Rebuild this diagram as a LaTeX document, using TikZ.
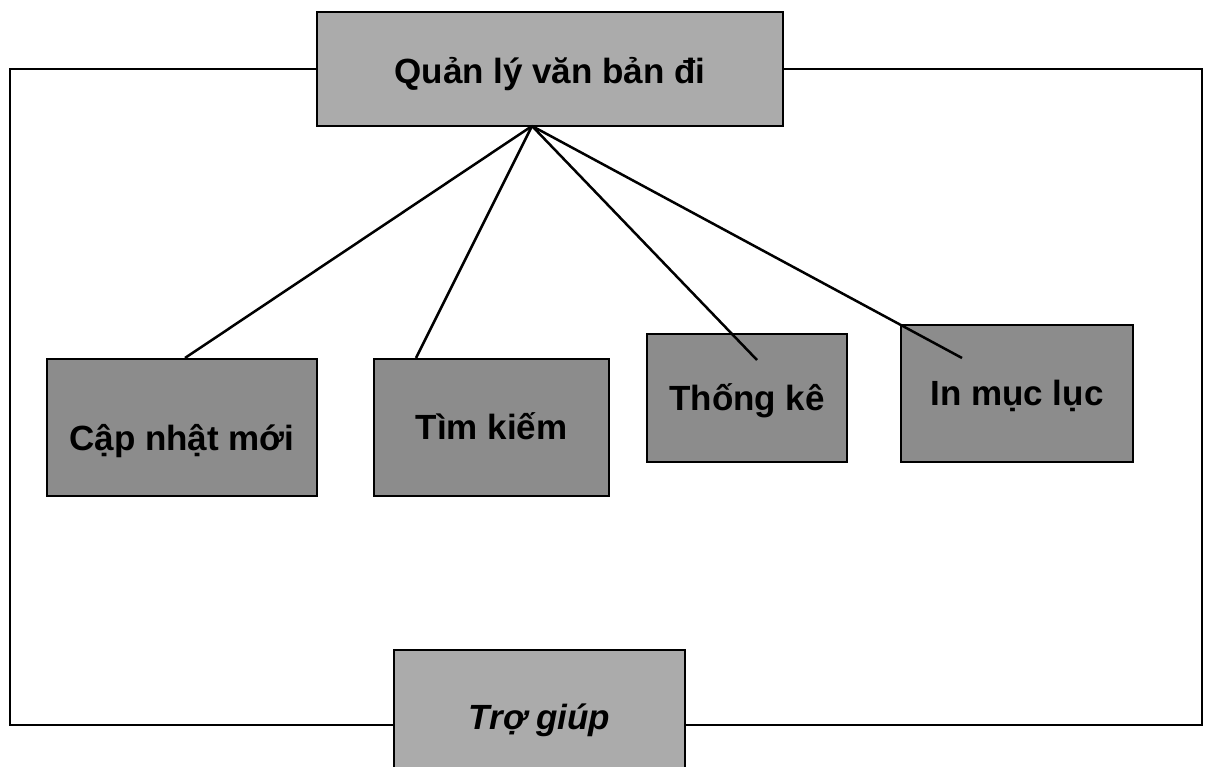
\documentclass[tikz,border=0pt]{standalone}
\usepackage{fontspec}
\setmainfont{Liberation Sans}

\tikzset{
  menu/.style={draw,line width=2.5pt,inner sep=0pt,text height=31pt,text depth=7pt,
    font=\fontsize{35}{40}\selectfont\bfseries},
  mainmenu/.style={menu,fill=black!33},
  submenu/.style={menu,fill=black!45},
}

\begin{document}
\begin{tikzpicture}[x=1pt,y=-1pt,line width=2.5pt]
  \useasboundingbox (0,0) rectangle (1215,767);
  \clip (0,0) rectangle (1215,767);

  % menu boxes
  \node [mainmenu,minimum width=466,minimum height=114,text height=37pt] (qlvb) at (550,69) {Quản lý văn bản đi};
  \node [submenu,minimum width=270,minimum height=137,text height=53pt] (capnhat) at (182,427.5) {Cập nhật mới};
  \node [submenu,minimum width=235,minimum height=137] (timkiem) at (491.5,427.5) {Tìm kiếm};
  \node [submenu,minimum width=200,minimum height=128] (thongke) at (747,398) {Thống kê};
  \node [submenu,minimum width=232,minimum height=137] (inmucluc) at (1017,393.5) {In mục lục};
  \node [mainmenu,minimum width=291,minimum height=150,text depth=23pt,
    font=\fontsize{35}{40}\selectfont\bfseries\itshape] (trogiup) at (539.5,725) {Trợ giúp};

  % where the branches meet the boxes
  \coordinate (hub) at (532,126);
  \coordinate (a1) at (185,358);
  \coordinate (a2) at (416,358);
  \coordinate (a3) at (757,360);
  \coordinate (a4) at (962,358);

  \draw (hub) -- (a1);
  \draw (hub) -- (a2);
  \draw (hub) -- (a3);
  \draw (hub) -- (a4);

  % outer frame
  \coordinate (bl) at (10,725);
  \coordinate (br) at (1202,725);

  \draw (qlvb.west) -| (bl) -- (trogiup.west);
  \draw (qlvb.east) -| (br) -- (trogiup.east);
\end{tikzpicture}
\end{document}
